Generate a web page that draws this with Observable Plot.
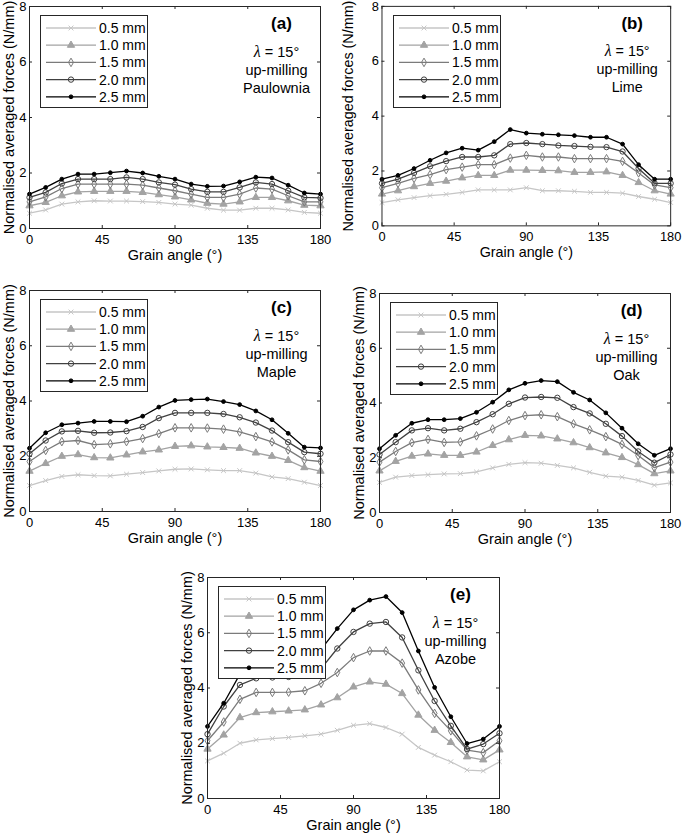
<!DOCTYPE html>
<html><head><meta charset="utf-8">
<script src="https://cdn.jsdelivr.net/npm/d3@7"></script>
<script src="https://cdn.jsdelivr.net/npm/@observablehq/plot@0.6"></script>
<style>
body{margin:0;background:#fff;}
#chart{position:relative;width:685px;height:836px;overflow:hidden;background:#fff;font-family:"Liberation Sans",Arial,Helvetica,sans-serif;}
.panel{position:absolute;}
.panel svg{overflow:visible;}
</style></head><body><div id="chart"></div>
<script>
// ---------- data ----------
const angles = [0,10,20,30,40,50,60,70,80,90,100,110,120,130,140,150,160,170,180];
const thicknesses = ["0.5 mm","1.0 mm","1.5 mm","2.0 mm","2.5 mm"];
const xTicks = [0,45,90,135,180];
const yTicks = [0,2,4,6,8];
const xLabel = "Grain angle (°)";
const yLabel = "Normalised averaged forces (N/mm)";
const rakeText = "λ = 15°";
const modeText = "up-milling";
const species = ["Paulownia","Lime","Maple","Oak","Azobe"];
const panelTags = ["(a)","(b)","(c)","(d)","(e)"];

const paulownia = [
  [0.55,0.67,0.88,0.96,1.00,0.99,0.99,0.97,0.94,0.88,0.84,0.73,0.66,0.66,0.73,0.73,0.67,0.58,0.55],
  [0.82,0.94,1.18,1.32,1.34,1.34,1.34,1.30,1.22,1.14,1.03,0.91,0.88,0.96,1.12,1.12,1.00,0.84,0.82],
  [0.96,1.14,1.44,1.60,1.60,1.60,1.60,1.56,1.46,1.36,1.24,1.12,1.12,1.24,1.46,1.42,1.18,0.96,0.96],
  [1.12,1.30,1.62,1.78,1.78,1.78,1.84,1.78,1.66,1.58,1.42,1.32,1.32,1.48,1.66,1.60,1.36,1.12,1.10],
  [1.24,1.48,1.78,1.96,1.96,2.01,2.07,2.00,1.88,1.78,1.60,1.52,1.53,1.68,1.85,1.82,1.56,1.28,1.24]
];
const lime = [
  [0.85,0.95,1.03,1.10,1.15,1.22,1.31,1.31,1.31,1.39,1.28,1.28,1.26,1.22,1.22,1.19,1.07,0.97,0.85],
  [1.16,1.28,1.43,1.55,1.63,1.75,1.84,1.84,2.03,2.03,2.02,2.01,1.95,1.95,1.97,1.84,1.58,1.28,1.16],
  [1.39,1.55,1.73,1.87,2.05,2.14,2.23,2.23,2.47,2.57,2.51,2.51,2.45,2.45,2.45,2.35,1.93,1.49,1.39],
  [1.55,1.70,1.93,2.17,2.36,2.51,2.51,2.57,2.98,3.02,2.98,2.93,2.91,2.88,2.87,2.71,2.09,1.55,1.55],
  [1.70,1.84,2.09,2.39,2.66,2.83,2.76,3.07,3.51,3.38,3.34,3.32,3.29,3.23,3.23,2.98,2.23,1.70,1.70]
];
const maple = [
  [0.94,1.12,1.27,1.33,1.30,1.29,1.35,1.41,1.47,1.53,1.54,1.51,1.48,1.48,1.39,1.25,1.19,1.06,0.94],
  [1.46,1.74,2.00,2.06,1.95,1.94,2.05,2.16,2.23,2.36,2.38,2.34,2.32,2.29,2.12,2.00,1.85,1.59,1.46],
  [1.81,2.21,2.53,2.57,2.42,2.45,2.53,2.64,2.82,3.03,3.03,3.02,2.98,2.88,2.71,2.52,2.23,1.87,1.81],
  [2.09,2.57,2.90,2.92,2.85,2.86,2.91,3.06,3.38,3.57,3.57,3.57,3.53,3.41,3.22,2.93,2.51,2.15,2.09],
  [2.29,2.85,3.14,3.20,3.26,3.26,3.25,3.45,3.78,4.02,4.05,4.07,3.98,3.87,3.64,3.32,2.83,2.33,2.30]
];
const oak = [
  [1.10,1.29,1.35,1.38,1.41,1.42,1.48,1.63,1.76,1.82,1.80,1.72,1.63,1.47,1.33,1.29,1.17,1.00,1.08],
  [1.52,1.87,2.06,2.14,2.09,2.09,2.21,2.45,2.66,2.82,2.80,2.69,2.55,2.37,2.18,2.01,1.75,1.42,1.52],
  [1.84,2.23,2.55,2.67,2.56,2.58,2.80,3.05,3.36,3.54,3.57,3.50,3.24,3.02,2.77,2.49,2.08,1.64,1.84],
  [2.12,2.57,3.00,3.08,3.00,3.06,3.30,3.59,3.97,4.20,4.22,4.19,3.85,3.62,3.24,2.79,2.23,1.82,2.12],
  [2.33,2.82,3.26,3.39,3.39,3.43,3.66,4.03,4.48,4.72,4.82,4.78,4.39,4.11,3.64,3.08,2.51,2.09,2.33]
];
const azobe = [
  [1.36,1.64,2.00,2.12,2.17,2.21,2.27,2.33,2.47,2.65,2.71,2.57,2.33,1.85,1.57,1.33,1.03,1.00,1.33],
  [1.79,2.30,2.93,3.11,3.14,3.17,3.21,3.39,3.65,4.04,4.22,4.14,3.80,3.02,2.47,2.03,1.51,1.40,1.76],
  [2.09,2.77,3.59,3.84,3.84,3.85,3.90,4.17,4.56,5.10,5.34,5.34,4.90,3.93,3.08,2.45,1.75,1.66,2.09],
  [2.33,3.33,4.11,4.35,4.38,4.40,4.45,4.70,5.43,6.03,6.33,6.39,5.83,4.64,3.53,2.63,1.79,1.97,2.36],
  [2.61,3.45,4.50,4.80,4.85,4.90,4.95,5.40,6.15,6.83,7.18,7.31,6.73,5.34,4.02,2.96,1.99,2.15,2.61]
];
const panelData = [paulownia, lime, maple, oak, azobe];

// ---------- styles & layout ----------
const seriesColor = ["#c6c6c6","#a3a3a3","#7b7b7b","#404040","#000000"];
const seriesSymbol = ["times","triangle","diamond","circle","circle"];
const seriesFill = ["none","#a3a3a3","none","none","#000000"];
const seriesR = [2.3,2.7,2.6,2.7,1.9];
const ink = "#262626";
const ML = 45, MR = 15, MT = 10, MB = 40;
const frames = [
  {left:29,  top:6,   w:291, h:222, yGap:20},
  {left:382, top:6,   w:292, h:222, yGap:34},
  {left:29,  top:290, w:291, h:221, yGap:20},
  {left:379, top:293, w:291, h:219, yGap:20},
  {left:207, top:577, w:292, h:221, yGap:20}
];
const symbolMap = {times: d3.symbolTimes, triangle: d3.symbolTriangle, diamond: d3.symbolDiamond, circle: d3.symbolCircle};
const fontStack = '"Liberation Sans", Arial, Helvetica, sans-serif';
const centered = {textAnchor: "middle", lineAnchor: "middle", fill: "#000"};

const chart = document.getElementById("chart");

frames.forEach((f, p) => {
  const div = document.createElement("div");
  div.className = "panel";
  div.style.left = (f.left - ML) + "px";
  div.style.top = (f.top - MT) + "px";
  chart.appendChild(div);

  const marks = [];
  const series = panelData[p];
  series.forEach((vals, i) => {
    const rows = angles.map((a, j) => ({angle: a, force: vals[j]}));
    marks.push(Plot.line(rows, {x: "angle", y: "force", stroke: seriesColor[i], strokeWidth: 1.3}));
    marks.push(Plot.dot(rows, {x: "angle", y: "force", symbol: () => seriesSymbol[i], r: seriesR[i],
      stroke: seriesColor[i], fill: seriesFill[i], strokeWidth: 1}));
  });
  // inward ticks on all four sides
  marks.push(Plot.ruleX(xTicks, {x: d => d, insetTop: f.h - 3, stroke: ink}));
  marks.push(Plot.ruleX(xTicks, {x: d => d, insetBottom: f.h - 3, stroke: ink}));
  marks.push(Plot.ruleY(yTicks, {y: d => d, insetRight: f.w - 3, stroke: ink}));
  marks.push(Plot.ruleY(yTicks, {y: d => d, insetLeft: f.w - 3, stroke: ink}));
  marks.push(Plot.frame({stroke: ink, strokeWidth: 1}));
  marks.push(Plot.axisX(xTicks, {tickSize: 0, tickPadding: 6, label: null, fill: "#000"}));
  marks.push(Plot.axisY(yTicks, {tickSize: 0, tickPadding: 3, label: null, fill: "#000"}));
  marks.push(Plot.text([xLabel], {...centered, frameAnchor: "bottom", dy: 27, fontSize: 14.5}));
  marks.push(Plot.text([yLabel], {...centered, frameAnchor: "left", dx: -f.yGap, rotate: -90, fontSize: 14.5}));
  marks.push(Plot.text([panelTags[p]], {...centered, frameAnchor: "top-right", dx: -39, dy: 17, fontSize: 17, fontWeight: "bold"}));
  marks.push(Plot.text([rakeText], {...centered, frameAnchor: "top-right", dx: -44, dy: 46, fontSize: 14.5}));
  marks.push(Plot.text([modeText], {...centered, frameAnchor: "top-right", dx: -44, dy: 64, fontSize: 14.5}));
  marks.push(Plot.text([species[p]], {...centered, frameAnchor: "top-right", dx: -44, dy: 82, fontSize: 14.5}));

  const svg = Plot.plot({
    width: ML + f.w + MR,
    height: MT + f.h + MB,
    marginLeft: ML, marginRight: MR, marginTop: MT, marginBottom: MB,
    x: {domain: [0, 180]},
    y: {domain: [0, 8]},
    style: {fontSize: "13px", fontFamily: fontStack, background: "transparent", overflow: "visible"},
    marks
  });
  // italic serif lambda
  d3.select(svg).selectAll("text").filter(function() { return this.textContent === rakeText; })
    .each(function() {
      const t = d3.select(this);
      t.text(null);
      t.append("tspan").attr("font-family", '"Liberation Serif", "DejaVu Serif", serif').attr("font-style", "italic").attr("font-size", "16px").text(rakeText.slice(0, 1));
      t.append("tspan").text(rakeText.slice(1));
    });
  div.appendChild(svg);

  // legend (opaque box, as in the original)
  const lw = 108, lh = 93;
  const lg = d3.select(div).append("svg")
    .attr("width", lw).attr("height", lh)
    .style("position", "absolute").style("left", (ML + 11) + "px").style("top", (MT + 9) + "px");
  lg.append("rect").attr("x", 0.5).attr("y", 0.5).attr("width", lw - 1).attr("height", lh - 1)
    .attr("fill", "#fff").attr("stroke", ink);
  thicknesses.forEach((name, i) => {
    const cy = 13 + i * 17.2;
    lg.append("line").attr("x1", 6).attr("x2", 56).attr("y1", cy).attr("y2", cy)
      .attr("stroke", seriesColor[i]).attr("stroke-width", 1.3);
    lg.append("path").attr("transform", `translate(31,${cy})`)
      .attr("d", d3.symbol(symbolMap[seriesSymbol[i]], seriesR[i] * seriesR[i] * Math.PI)())
      .attr("fill", seriesFill[i]).attr("stroke", seriesColor[i]).attr("stroke-width", 1);
    lg.append("text").attr("x", 59).attr("y", cy).attr("dy", "0.35em")
      .attr("font-size", 14).attr("font-family", fontStack).attr("fill", "#000").text(name);
  });
});
</script></body></html>
